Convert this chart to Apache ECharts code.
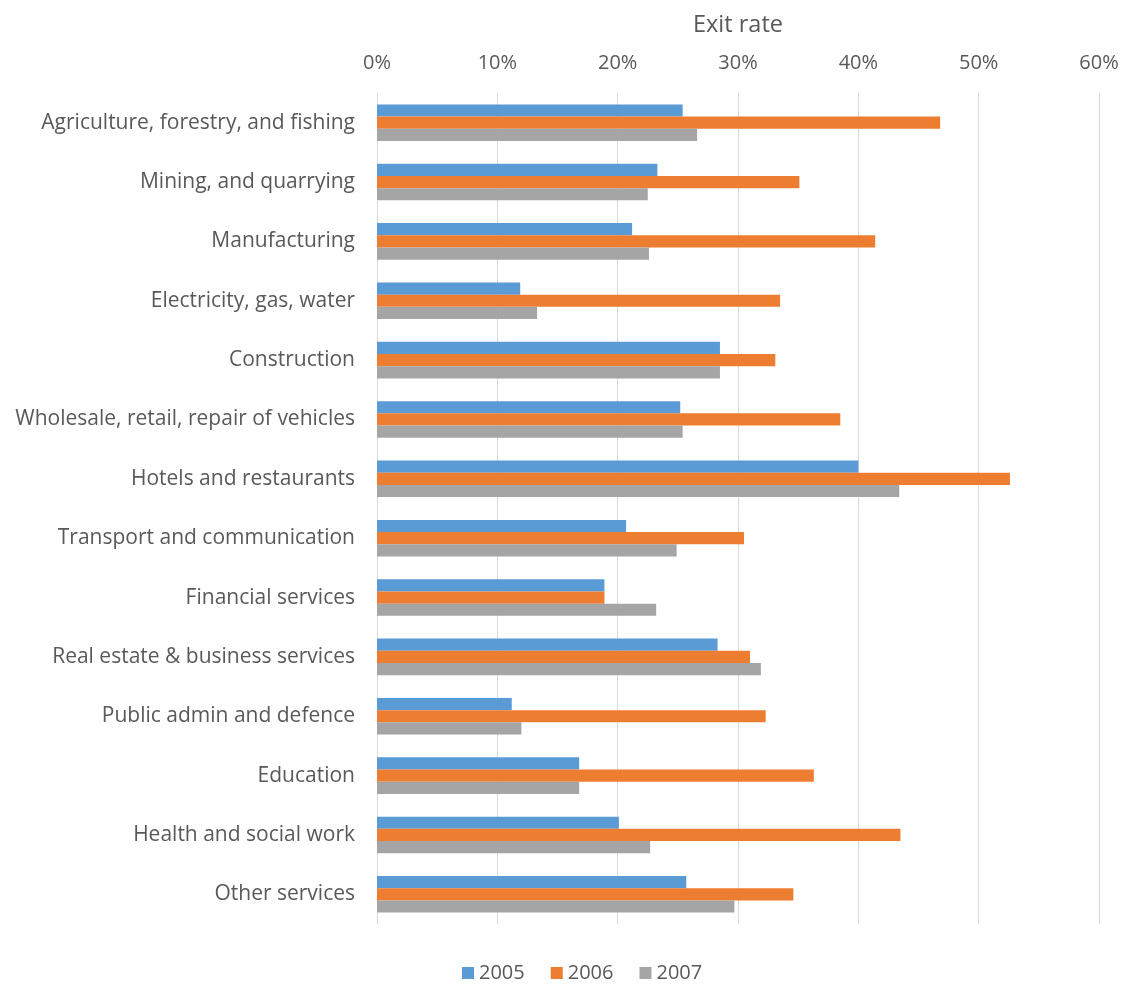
<!DOCTYPE html>
<html>
<head>
<meta charset="utf-8">
<script src="https://cdn.jsdelivr.net/npm/echarts@6/dist/echarts.min.js"></script>
<style>
  html, body { margin: 0; padding: 0; background: #ffffff; }
  #chart { width: 1122px; height: 985px; }
</style>
</head>
<body>
<div id="chart"></div>
<script>
// Sectors, listed top to bottom
const categories = [
  'Agriculture, forestry, and fishing',
  'Mining, and quarrying',
  'Manufacturing',
  'Electricity, gas, water',
  'Construction',
  'Wholesale, retail, repair of vehicles',
  'Hotels and restaurants',
  'Transport and communication',
  'Financial services',
  'Real estate & business services',
  'Public admin and defence',
  'Education',
  'Health and social work',
  'Other services'
];

// Exit rates (fraction of firms) per year
const exit2005 = [0.254, 0.233, 0.212, 0.119, 0.285, 0.252, 0.400, 0.207, 0.189, 0.283, 0.112, 0.168, 0.201, 0.257];
const exit2006 = [0.468, 0.351, 0.414, 0.335, 0.331, 0.385, 0.526, 0.305, 0.189, 0.310, 0.323, 0.363, 0.435, 0.346];
const exit2007 = [0.266, 0.225, 0.226, 0.133, 0.285, 0.254, 0.434, 0.249, 0.232, 0.319, 0.120, 0.168, 0.227, 0.297];

const years = ['2005', '2006', '2007'];
const colors = ['#5b9bd5', '#ed7d31', '#a5a5a5'];

const FONT = 'Open Sans';
const TEXT = '#595959';

const chart = echarts.init(document.getElementById('chart'), null, { renderer: 'canvas' });

const seriesData = [exit2005, exit2006, exit2007];

chart.setOption({
  animation: false,
  backgroundColor: '#ffffff',
  color: colors,
  textStyle: { fontFamily: FONT },
  grid: { left: 377, right: 23, top: 93, bottom: 61, containLabel: false },
  legend: {
    top: 958,
    left: 457,
    itemWidth: 12,
    itemHeight: 12,
    itemGap: 26,
    icon: 'rect',
    textStyle: { color: TEXT, fontSize: 20, fontFamily: FONT },
    data: years
  },
  xAxis: {
    type: 'value',
    position: 'top',
    min: 0,
    max: 0.6,
    interval: 0.1,
    name: 'Exit rate',
    nameLocation: 'middle',
    nameGap: 56,
    nameTextStyle: { color: TEXT, fontSize: 23.5, fontFamily: FONT },
    axisLine: { show: false },
    axisTick: { show: false },
    axisLabel: {
      color: TEXT, fontSize: 20, fontFamily: FONT, margin: 20,
      formatter: v => Math.round(v * 100) + '%'
    },
    splitLine: { show: true, lineStyle: { color: '#d9d9d9', width: 1 } }
  },
  yAxis: {
    type: 'category',
    inverse: true,
    data: categories,
    axisLine: { show: true, lineStyle: { color: '#d9d9d9', width: 1 } },
    axisTick: { show: false },
    axisLabel: { color: TEXT, fontSize: 21, fontFamily: FONT, margin: 22 }
  },
  series: years.map((y, i) => ({
    name: y,
    type: 'bar',
    data: seriesData[i],
    barWidth: 12.2,
    barGap: '0%',
    itemStyle: { color: colors[i] }
  }))
});
</script>
</body>
</html>
